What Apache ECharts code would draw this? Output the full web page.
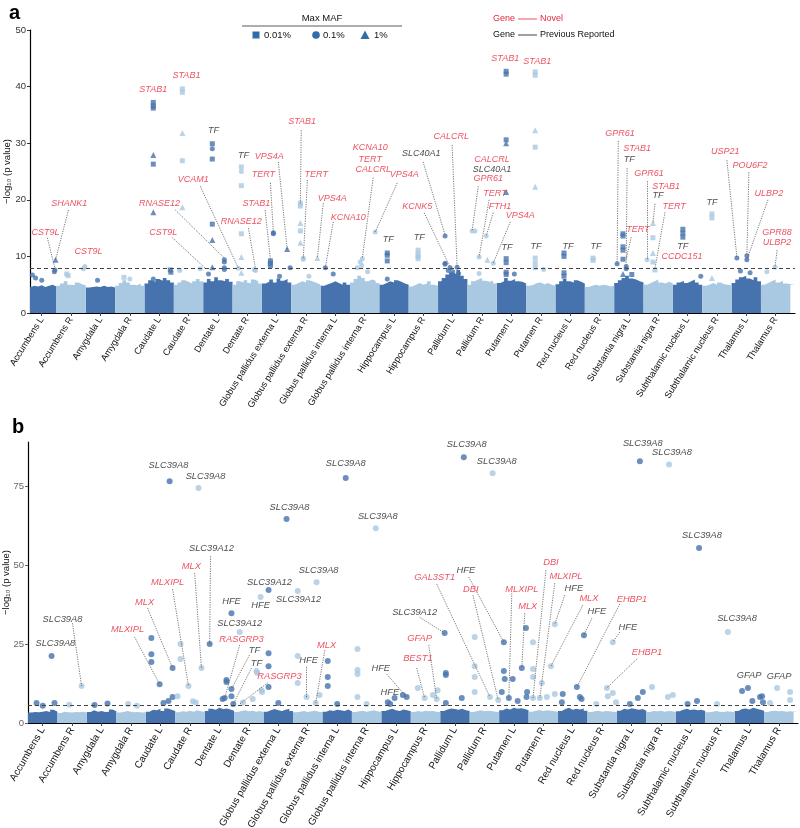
<!DOCTYPE html>
<html><head><meta charset="utf-8">
<script src="https://cdn.jsdelivr.net/npm/echarts@6/dist/echarts.min.js"></script>
<style>html,body{margin:0;padding:0;background:#fff}#c{width:800px;height:828px}</style>
</head><body><div id="c"></div>
<script>
const regions = ['Accumbens L','Accumbens R','Amygdala L','Amygdala R','Caudate L','Caudate R','Dentate L','Dentate R',
 'Globus pallidus externa L','Globus pallidus externa R','Globus pallidus interna L','Globus pallidus interna R',
 'Hippocampus L','Hippocampus R','Pallidum L','Pallidum R','Putamen L','Putamen R','Red nucleus L','Red nucleus R',
 'Substantia nigra L','Substantia nigra R','Subthalamic nucleus L','Subthalamic nucleus R','Thalamus L','Thalamus R'];

// dense background: upper envelope heights (-log10 p) across each region
const envA = [
[4.6,4.8,4.7,4.9,4.6,4.8,5.0,4.7],[4.8,5.2,5.6,5.0,4.9,5.4,5.1,4.9],[4.5,4.6,4.7,4.6,4.8,4.6,4.7,4.5],
[4.8,5.3,5.8,5.4,5.0,4.9,5.2,4.8],[5.2,5.8,5.5,6.0,5.7,6.2,5.8,5.4],[5.0,5.4,5.8,5.5,5.2,5.6,6.0,5.6],
[5.4,6.0,5.6,6.3,5.8,5.6,6.0,5.5],[5.0,5.6,5.4,5.8,5.3,5.9,5.6,5.2],[5.2,5.5,5.9,5.4,6.1,5.7,6.0,5.4],
[5.0,5.3,5.6,5.4,5.8,5.5,5.3,5.0],[4.8,5.1,5.3,5.6,5.3,5.0,5.4,5.0],[5.4,6.0,6.6,6.2,5.6,5.9,5.7,5.3],
[5.0,5.3,5.6,5.4,5.8,5.5,5.2,5.0],[4.7,5.0,5.3,5.0,5.2,5.6,5.0,4.8],[5.6,6.2,6.8,7.2,6.9,7.6,6.6,6.0],
[5.0,5.6,5.9,6.2,5.7,5.5,5.7,5.2],[5.3,5.6,6.2,5.7,6.0,5.6,5.5,5.2],[4.8,5.0,5.3,5.4,5.1,5.3,5.0,4.8],
[5.1,5.6,6.0,5.6,5.4,5.8,5.5,5.2],[4.6,4.8,5.0,4.8,5.0,4.9,4.7,4.8],[5.3,5.8,6.2,6.6,6.1,5.9,5.6,5.4],
[5.0,5.3,5.6,5.9,5.4,5.2,5.5,5.2],[5.0,5.4,5.7,5.3,5.6,5.9,5.4,5.0],[4.8,5.0,5.3,5.0,5.4,5.1,5.0,4.9],
[5.3,5.9,6.3,6.6,6.1,5.8,6.3,5.6],[5.0,5.3,5.6,5.9,5.4,5.7,5.2,5.0]];
const envB = [
[3.3,3.5,3.4,3.6,3.8,3.5,4.2,3.6],[3.2,3.6,3.4,3.3,3.5,3.4,3.6,3.3],[3.5,4.0,3.6,3.8,3.5,3.6,4.3,3.7],
[3.3,3.5,3.8,3.6,3.4,3.5,3.3,3.4],[3.6,4.2,4.0,4.5,3.8,4.6,4.2,3.8],[3.4,3.7,3.6,3.9,3.6,4.0,3.7,3.5],
[3.8,4.5,4.2,4.8,4.4,4.6,4.3,3.9],[3.5,3.8,4.0,3.7,3.9,3.6,3.8,3.5],[3.6,4.0,4.4,4.0,3.8,4.2,4.5,3.8],
[3.4,3.6,3.8,3.5,3.7,3.9,3.6,3.4],[3.6,4.0,3.8,4.2,4.0,3.8,4.3,3.7],[3.5,3.7,3.9,3.6,3.8,4.0,3.7,3.5],
[3.8,4.2,4.5,4.0,3.8,4.3,4.0,3.7],[3.5,3.8,3.6,3.9,3.7,3.8,3.6,3.4],[3.8,4.3,4.6,4.4,4.2,4.5,4.0,3.8],
[3.5,3.8,4.0,3.7,3.9,3.8,3.6,3.5],[4.0,4.6,4.3,4.8,4.5,4.7,4.4,4.0],[3.6,3.9,4.1,3.8,4.0,3.9,3.7,3.6],
[3.8,4.4,4.8,4.2,4.5,4.3,4.6,3.9],[3.5,3.7,3.9,3.6,3.8,3.7,3.6,3.5],[3.9,4.5,4.3,4.7,4.4,4.2,4.4,3.9],
[3.5,3.8,3.7,3.9,3.6,3.8,3.7,3.5],[3.7,4.2,4.5,4.1,4.3,4.0,4.2,3.8],[3.4,3.6,3.8,3.6,3.5,3.7,3.6,3.4],
[3.8,4.4,4.6,4.3,4.8,4.5,4.2,3.9],[3.5,3.8,3.9,3.7,3.8,3.6,3.7,3.5]];

// panel a points: [x, -log10 p, max MAF class: s=0.01%, c=0.1%, t=1%]
const pointsA = [
[0.18,6.7,'c'],[0.29,6.2,'c'],[0.5,5.8,'c'],[0.97,9.4,'t'],[0.95,7.6,'c'],[0.93,7.3,'c'],
[1.35,6.9,'s'],[1.4,6.6,'s'],[1.97,8.2,'c'],[1.92,7.8,'c'],
[2.4,5.8,'c'],[3.3,6.3,'s'],[3.5,6.0,'c'],
[4.30,37.2,'s'],[4.30,36.6,'s'],[4.30,36.2,'s'],[4.30,27.9,'t'],[4.30,26.3,'s'],[4.30,17.8,'t'],[4.88,7.6,'s'],[4.9,7.2,'s'],[4.30,6.0,'c'],
[5.29,39.6,'s'],[5.29,39.0,'s'],[5.29,31.8,'t'],[5.29,26.9,'s'],[5.29,18.7,'t'],[5.2,7.5,'c'],[5.9,7.8,'c'],
[6.31,29.9,'s'],[6.31,29.0,'c'],[6.31,27.2,'s'],[6.31,15.7,'s'],[6.31,12.9,'t'],[6.31,8.1,'t'],[6.18,6.9,'c'],[6.72,9.4,'c'],[6.72,9.0,'c'],[6.72,8.0,'c'],[6.72,7.7,'c'],
[7.30,25.8,'s'],[7.30,25.0,'c'],[7.30,22.5,'s'],[7.30,14.0,'s'],[7.30,9.9,'t'],[7.30,7.1,'t'],[7.20,7.9,'c'],[7.78,7.5,'c'],[7.74,7.7,'c'],
[8.29,9.2,'s'],[8.29,8.8,'s'],[8.29,8.4,'s'],[8.39,14.2,'c'],[8.39,14.0,'c'],[8.86,11.3,'t'],[8.96,8.0,'c'],[8.6,6.5,'c'],
[9.31,19.4,'s'],[9.31,18.9,'s'],[9.31,15.9,'t'],[9.31,14.5,'s'],[9.31,12.4,'t'],[9.41,9.7,'c'],[9.41,9.5,'c'],[9.89,9.7,'t'],[9.6,6.5,'c'],
[10.16,8.0,'c'],[10.43,6.9,'c'],
[11.35,9.0,'c'],[11.42,9.6,'c'],[11.40,8.4,'c'],[11.25,8.0,'c'],[11.6,7.3,'c'],[11.86,14.3,'c'],
[12.27,10.6,'s'],[12.27,10.2,'s'],[12.27,9.2,'s'],[12.27,6.0,'c'],
[13.32,11.1,'s'],[13.32,10.4,'s'],[13.32,10.0,'s'],[13.32,9.6,'s'],
[14.24,13.6,'c'],[14.24,8.8,'c'],[14.24,8.6,'c'],[14.41,8.0,'c'],[14.65,8.1,'c'],[14.5,7.3,'c'],[14.7,7.0,'c'],[14.35,7.5,'c'],
[15.16,14.5,'c'],[15.26,14.5,'c'],[15.64,13.6,'c'],[15.40,9.9,'c'],[15.68,9.4,'t'],[15.88,8.8,'c'],[15.4,7.0,'c'],
[16.32,42.7,'s'],[16.32,42.2,'s'],[16.32,30.6,'s'],[16.32,30.0,'t'],[16.32,21.4,'t'],[16.32,9.6,'s'],[16.32,8.9,'s'],[16.32,7.2,'s'],[16.32,6.8,'s'],[16.6,6.9,'c'],
[17.31,42.6,'s'],[17.31,42.0,'s'],[17.31,32.3,'t'],[17.31,29.3,'s'],[17.31,22.3,'t'],[17.31,9.7,'s'],[17.31,8.8,'s'],[17.31,8.0,'s'],[17.6,7.7,'c'],
[18.29,10.6,'s'],[18.29,10.0,'s'],[18.29,7.1,'s'],[18.29,6.5,'s'],
[19.28,9.7,'s'],[19.28,9.3,'s'],
[20.30,14.0,'s'],[20.30,13.6,'s'],[20.30,11.7,'s'],[20.30,11.1,'s'],[20.30,9.5,'s'],[20.10,8.7,'c'],[20.30,6.9,'t'],[20.41,7.8,'c'],[20.41,8.2,'c'],[20.6,6.8,'s'],
[21.12,9.4,'c'],[21.32,15.9,'t'],[21.32,13.3,'s'],[21.32,10.6,'t'],[21.32,9.0,'s'],[21.39,7.6,'s'],
[22.34,14.8,'s'],[22.34,14.1,'s'],[22.34,13.4,'s'],[22.95,6.5,'c'],
[23.33,17.5,'s'],[23.33,16.8,'s'],[23.33,6.2,'t'],
[24.18,9.7,'c'],[24.52,10.1,'c'],[24.52,9.4,'c'],[24.63,7.1,'c'],[24.3,7.4,'c'],
[25.20,7.3,'c'],[25.48,8.1,'c']];

// panel b points (all circles): [x, -log10 p]
const pointsB = [
[0.29,6.3],[0.80,21.2],[0.90,6.3],[0.5,5.5],[1.82,11.7],[1.4,5.8],[2.26,5.7],[2.7,6.2],[3.4,6.0],[3.7,5.5],
[4.19,26.9],[4.19,21.8],[4.19,19.3],[4.47,12.3],[4.81,76.6],[4.91,17.4],[4.91,8.2],[4.77,7.0],[4.6,6.3],
[5.08,8.5],[5.18,25.0],[5.18,20.3],[5.45,11.7],[5.79,74.4],[5.89,17.4],[5.6,6.9],[5.7,6.5],
[6.17,25.0],[6.61,7.6],[6.68,7.9],[6.74,13.6],[6.74,13.0],[6.91,34.8],[6.91,10.8],[6.91,8.5],[6.97,6.0],
[7.19,28.8],[7.63,7.6],[7.76,16.5],[7.78,15.9],[7.90,39.9],[7.93,10.4],[7.95,9.8],[7.3,6.5],
[8.17,42.1],[8.17,22.1],[8.17,18.0],[8.17,11.4],[8.78,64.6],[8.5,6.3],
[9.16,41.8],[9.16,21.2],[9.16,12.7],[9.80,44.6],[9.46,8.2],[9.77,6.3],[9.90,8.9],
[10.18,19.6],[10.18,14.6],[10.18,11.7],[10.79,77.6],[10.5,6.0],
[11.19,23.4],[11.19,16.8],[11.19,15.5],[11.19,8.2],[11.81,61.7],[11.5,6.0],
[12.22,6.6],[12.45,7.9],[12.73,8.9],[12.86,8.2],[12.3,6.0],
[13.24,11.1],[13.47,7.9],[13.75,8.9],[13.88,7.6],[13.91,10.4],
[14.15,28.5],[14.19,15.8],[14.19,15.2],[14.19,6.3],[14.73,7.9],[14.80,84.2],
[15.17,27.2],[15.17,18.0],[15.17,14.6],[15.17,9.8],[15.69,8.2],[15.78,79.1],[15.97,7.3],
[16.09,9.8],[16.16,25.6],[16.16,16.5],[16.19,13.9],[16.33,7.9],[16.46,13.9],[16.63,7.0],[16.77,17.4],[16.91,30.1],[16.95,9.8],[16.93,8.2],
[17.15,25.6],[17.15,17.1],[17.15,14.6],[17.15,7.9],[17.38,7.9],[17.45,12.7],[17.62,8.2],[17.76,18.0],[17.89,31.3],[17.89,9.2],
[18.13,6.6],[18.16,9.2],[18.64,11.4],[18.74,8.2],[18.80,7.6],[18.88,27.8],
[19.66,11.1],[19.69,8.5],[19.86,25.6],[19.86,9.5],[19.97,6.6],[19.3,6.0],
[20.44,6.0],[20.71,7.9],[20.78,82.9],[20.88,9.8],
[21.19,11.4],[21.73,8.2],[21.77,81.9],[21.90,8.9],
[22.72,7.0],[22.79,55.4],[22.4,6.0],
[23.77,28.8],[23.4,6.0],
[24.25,10.1],[24.45,11.1],[24.86,8.2],[24.93,8.5],[24.96,6.6],[24.6,7.0],
[25.44,11.1],[25.88,9.8],[25.88,7.3],[25.2,6.3]];

// gene annotations: [gene, novel?, labelX, labelY, (leaderFromX, leaderFromY, leaderToX, leaderToY)]
const genesA = [
['STAB1',1,4.30,39.4],['STAB1',1,5.43,41.9],['TF',0,6.35,32.2],['TF',0,7.37,27.9],
['VPS4A',1,8.25,27.6,8.56,26.7,8.86,11.3],['TERT',1,8.05,24.4,8.29,23.0,8.39,14.2],
['STAB1',1,9.37,33.9,9.34,32.3,9.31,19.4],['TERT',1,9.85,24.4,9.55,23.5,9.41,9.7],
['VPS4A',1,10.40,20.3,10.09,19.4,9.89,9.7],['KCNA10',1,10.94,16.8,10.43,16.1,10.16,8.0],
['KCNA10',1,11.69,29.2],['TERT',1,11.69,27.2],['CALCRL',1,11.79,25.4,11.79,23.9,11.42,9.7],
['VPS4A',1,12.85,24.4,12.61,23.0,11.86,14.3],
['SHANK1',1,1.44,19.4,1.41,18.2,0.97,9.4],['CST9L',1,0.63,14.3,0.69,13.3,0.95,7.9],['CST9L',1,2.09,10.8],
['RNASE12',1,4.51,19.4,5.05,18.2,6.72,9.7],['CST9L',1,4.64,14.3,4.95,13.3,6.07,7.9],
['VCAM1',1,5.66,23.5,5.90,22.4,7.20,7.9],['RNASE12',1,7.30,16.1,7.54,15.0,7.78,7.9],
['STAB1',1,7.81,19.3,8.11,18.2,8.29,9.4],['TF',0,12.30,12.9],
['STAB1',1,16.29,44.9],['STAB1',1,17.38,44.5],
['CALCRL',1,14.45,31.1,14.48,29.7,14.65,8.1],['SLC40A1',0,13.43,28.1,13.49,26.7,14.24,13.8],
['KCNK5',1,13.29,18.9,13.53,17.7,14.41,8.1],
['CALCRL',1,15.84,27.2],['SLC40A1',0,15.84,25.3],['GPR61',1,15.71,23.7,15.37,22.4,15.16,14.5],
['TERT',1,15.94,21.2,15.74,20.0,15.40,9.9],['FTH1',1,16.11,18.9,15.88,17.7,15.64,13.6],
['VPS4A',1,16.80,17.3,16.46,16.1,15.88,8.8],
['TF',0,13.36,13.3],['TF',0,16.35,11.5],['TF',0,17.34,11.7],['TF',0,18.43,11.8],['TF',0,19.38,11.7],
['GPR61',1,20.20,31.8,20.14,30.4,20.10,8.7],['STAB1',1,20.78,29.0],['TF',0,20.51,27.2,20.44,25.6,20.41,8.5],
['GPR61',1,21.19,24.7,21.12,23.3,21.12,9.4],['STAB1',1,21.77,22.4],['TF',0,21.49,20.8,21.39,19.3,21.32,15.9],
['TERT',1,20.81,14.7,20.58,13.4,20.41,9.5],['TERT',1,22.04,18.9,21.73,17.8,21.39,7.9],
['CCDC151',1,22.31,9.9],['TF',0,22.34,11.7],['TF',0,23.33,19.6],
['USP21',1,23.78,28.6,23.84,27.0,24.18,9.9],['POU6F2',1,24.63,26.1,24.59,24.9,24.52,10.1],
['ULBP2',1,25.27,21.2,25.24,20.0,24.52,9.4],['GPR88',1,25.55,14.3],['ULBP2',1,25.55,12.5,25.55,11.1,25.48,8.1]];
const genesB = [
['SLC39A8',0,4.77,81.6],['SLC39A8',0,6.03,78.2],['SLC39A8',0,10.79,82.3],['SLC39A8',0,8.88,68.4],['SLC39A8',0,11.88,65.5],
['SLC39A12',0,6.23,55.4,6.20,52.8,6.17,25.0],['MLX',1,5.55,49.7,5.66,47.5,5.89,17.4],
['MLXIPL',1,4.74,44.6,4.91,42.4,5.45,11.7],['MLX',1,3.96,38.3,4.06,36.4,4.91,17.4],
['MLXIPL',1,3.38,29.7,3.62,27.2,4.47,12.3],['SLC39A8',0,1.17,32.9,1.51,31.6,1.82,11.7],['SLC39A8',0,0.93,25.3],
['HFE',0,6.91,38.6],['SLC39A12',0,7.19,31.6],['HFE',0,7.90,37.3],['SLC39A12',0,8.20,44.6],['SLC39A12',0,9.19,39.2],['SLC39A8',0,9.87,48.4],
['RASGRP3',1,7.25,26.6,7.19,24.7,6.68,7.9],['TF',0,7.69,23.1,7.52,21.5,6.91,10.8],['TF',0,7.76,19.0,7.59,17.4,6.97,6.0],
['RASGRP3',1,8.54,14.6,8.14,12.7,7.19,6.0],['HFE',0,9.53,19.9,9.46,17.7,9.46,8.2],['MLX',1,10.14,24.7,10.08,23.1,9.77,6.3],
['HFE',0,11.98,17.4,12.18,15.5,12.86,8.2],['HFE',0,12.29,9.8],['BEST1',1,13.24,20.6,13.20,17.4,13.47,7.9],
['GFAP',1,13.30,26.9,13.61,24.7,13.88,7.6],['SLC39A12',0,13.13,35.1,13.30,33.5,14.15,28.5],
['SLC39A8',0,14.90,88.3],['SLC39A8',0,15.92,82.9],['SLC39A8',0,20.88,88.6],['SLC39A8',0,21.87,85.8],['SLC39A8',0,22.89,59.5],['SLC39A8',0,24.08,33.2],
['GAL3ST1',1,13.81,46.2,13.88,44.0,15.69,8.2],['DBI',1,15.04,42.4,15.11,40.5,15.97,7.3],
['HFE',0,14.87,48.4,14.97,46.2,16.16,25.6],['MLXIPL',1,16.77,42.4,16.43,41.1,16.33,7.9],
['MLX',1,16.97,37.0,16.87,34.8,16.77,17.4],['DBI',1,17.76,50.9,17.59,48.4,17.15,7.9],
['MLXIPL',1,18.27,46.5,17.89,44.3,17.38,7.9],['HFE',0,18.54,42.7,18.23,40.5,17.89,31.3],
['MLX',1,19.05,39.6,18.84,37.3,17.76,18.0],['HFE',0,19.32,35.4,19.15,33.2,18.88,27.8],
['EHBP1',1,20.51,39.2,20.10,37.7,18.64,11.4],['HFE',0,20.37,30.4,20.10,28.8,19.86,25.6],
['EHBP1',1,21.02,22.2,20.68,20.3,19.66,11.1],['GFAP',0,24.49,15.2],['GFAP',0,25.51,14.9]];

const thresholdA = 7.9, thresholdB = 5.7;
const yTicksA = [0,10,20,30,40,50];
const yTicksB = [0,25,50,75];
const mafLegend = ['0.01%','0.1%','1%'];

const DARK = '#4673ad', LIGHT = '#a9c8e1', RED = '#e8273b', BLK = '#1a1a1a', LEG = '#2f6ea9';
const FONT = 'Liberation Sans, Arial, Helvetica, sans-serif';
const shapeMap = {s:'rect', c:'circle', t:'triangle'};
const centers = regions.map((_, k) => k + 0.5);

function areaData(env, parity, xmax) {
  const d = [];
  env.forEach((vals, k) => {
    if (k % 2 !== parity) return;
    const n = vals.length;
    vals.forEach((v, i) => d.push([k + i / n, v]));
    d.push([k === env.length - 1 ? xmax : k + 1, vals[n - 1]]);
    d.push([k + 1.001, null]);
  });
  return d;
}
function areaSeries(env, parity, g, xmax) {
  return {type:'line', xAxisIndex:g, yAxisIndex:g, data:areaData(env, parity, xmax), step:'end',
    symbol:'none', showSymbol:false, lineStyle:{width:0}, connectNulls:false,
    areaStyle:{color: parity ? LIGHT : DARK, opacity:1}, silent:true, z:1};
}
function labelSeries(genes, g, fs) {
  return {type:'scatter', xAxisIndex:g, yAxisIndex:g, symbolSize:1, silent:true, z:6,
    itemStyle:{color:'rgba(0,0,0,0)'},
    label:{show:true, position:'inside', fontStyle:'italic', fontSize:fs, fontFamily:FONT},
    data: genes.map(r => ({value:[r[2], r[3]], label:{formatter:r[0], color: r[1] ? RED : BLK}}))};
}
function leaderSeries(genes, g) {
  return {type:'lines', coordinateSystem:'cartesian2d', xAxisIndex:g, yAxisIndex:g, silent:true, z:5,
    lineStyle:{color:'#555', width:0.8, type:[1.2,1.2], opacity:1},
    data: genes.filter(r => r.length > 4).map(r => ({coords:[[r[4], r[5]], [r[6], r[7]]]}))};
}
function xAxis(g, min, max, rot, fs) {
  return {type:'value', gridIndex:g, min, max,
    axisLine:{show:true, onZero:false, lineStyle:{color:'#000', width:1.2}},
    axisTick:{show:true, customValues:centers, length:3, lineStyle:{color:'#444'}},
    axisLabel:{customValues:centers, rotate:rot, margin:5, fontSize:fs, fontFamily:FONT, color:'#111',
      formatter: v => regions[Math.floor(v)]},
    splitLine:{show:false}};
}

const chart = echarts.init(document.getElementById('c'), null, {renderer:'canvas'});
chart.setOption({
  animation:false,
  grid:[{left:30, top:30, width:765, height:283, containLabel:false, outerBoundsMode:'none'},
        {left:28, top:442, width:770, height:281, containLabel:false, outerBoundsMode:'none'}],
  xAxis:[xAxis(0, 0.1, 26.16, 58, 9.2), xAxis(1, 0, 26.15, 60, 10)],
  yAxis:[
    {type:'value', gridIndex:0, min:0, max:50, interval:10,
     name:'−log₁₀ (p value)', nameLocation:'middle', nameGap:18, nameMoveOverlap:false,
     nameTextStyle:{fontSize:9.5, fontFamily:FONT, color:'#111'},
     axisLine:{show:true, lineStyle:{color:'#000', width:1.2}}, axisTick:{show:true, length:3, lineStyle:{color:'#333'}},
     axisLabel:{fontSize:9.5, fontFamily:FONT, color:'#333', margin:4}, splitLine:{show:false}},
    {type:'value', gridIndex:1, min:0, max:89,
     name:'−log₁₀ (p value)', nameLocation:'middle', nameGap:17, nameMoveOverlap:false,
     nameTextStyle:{fontSize:9.5, fontFamily:FONT, color:'#111'},
     axisLine:{show:true, lineStyle:{color:'#000', width:1.2}},
     axisTick:{show:true, length:3, customValues:yTicksB, lineStyle:{color:'#666'}},
     axisLabel:{customValues:yTicksB, fontSize:9.5, fontFamily:FONT, color:'#666', margin:4}, splitLine:{show:false}}
  ],
  series:[
    areaSeries(envA, 0, 0, 26.16), areaSeries(envA, 1, 0, 26.16),
    areaSeries(envB, 0, 1, 26.15), areaSeries(envB, 1, 1, 26.15),
    {type:'scatter', xAxisIndex:0, yAxisIndex:0, z:3, silent:true,
     data: pointsA.map(p => ({value:[p[0], p[1]], symbol:shapeMap[p[2]], symbolSize: p[2]==='t' ? 6 : 5,
       itemStyle:{color: Math.floor(p[0]) % 2 ? LIGHT : DARK}})),
     markLine:{silent:true, symbol:['none','none'], label:{show:false}, lineStyle:{type:[4,3], color:'#444', width:1},
       data:[{yAxis:thresholdA}]}},
    {type:'scatter', xAxisIndex:1, yAxisIndex:1, z:3, silent:true, symbol:'circle', symbolSize:6,
     data: pointsB.map(p => ({value:p, itemStyle:{color: Math.floor(p[0]) % 2 ? LIGHT : DARK}})),
     markLine:{silent:true, symbol:['none','none'], label:{show:false}, lineStyle:{type:[4,3], color:'#444', width:1},
       data:[{yAxis:thresholdB}]}},
    leaderSeries(genesA, 0), leaderSeries(genesB, 1),
    labelSeries(genesA, 0, 9), labelSeries(genesB, 1, 9.3)
  ],
  graphic:[
    {type:'text', left:9, top:3, style:{text:'a', font:'bold 20px '+FONT, fill:'#000'}},
    {type:'text', left:12, top:417, style:{text:'b', font:'bold 20px '+FONT, fill:'#000'}},
    {type:'text', x:322, y:18, style:{text:'Max MAF', font:'9.5px '+FONT, fill:'#111', align:'center', verticalAlign:'middle'}},
    {type:'line', shape:{x1:242, y1:26, x2:402, y2:26}, style:{stroke:'#333', lineWidth:0.8}},
    {type:'rect', shape:{x:252.5, y:31.5, width:7, height:7}, style:{fill:LEG}},
    {type:'text', x:264, y:35, style:{text:mafLegend[0], font:'9.5px '+FONT, fill:'#111', verticalAlign:'middle'}},
    {type:'circle', shape:{cx:316, cy:35, r:3.8}, style:{fill:LEG}},
    {type:'text', x:323, y:35, style:{text:mafLegend[1], font:'9.5px '+FONT, fill:'#111', verticalAlign:'middle'}},
    {type:'polygon', shape:{points:[[365,30.5],[369.5,39],[360.5,39]]}, style:{fill:LEG}},
    {type:'text', x:374, y:35, style:{text:mafLegend[2], font:'9.5px '+FONT, fill:'#111', verticalAlign:'middle'}},
    {type:'text', x:493, y:19, style:{text:'Gene', font:'9px '+FONT, fill:RED, verticalAlign:'middle'}},
    {type:'line', shape:{x1:518, y1:19, x2:537, y2:19}, style:{stroke:RED, lineWidth:0.8}},
    {type:'text', x:540, y:19, style:{text:'Novel', font:'9px '+FONT, fill:RED, verticalAlign:'middle'}},
    {type:'text', x:493, y:35, style:{text:'Gene', font:'9px '+FONT, fill:'#111', verticalAlign:'middle'}},
    {type:'line', shape:{x1:518, y1:35, x2:537, y2:35}, style:{stroke:'#111', lineWidth:0.8}},
    {type:'text', x:540, y:35, style:{text:'Previous Reported', font:'9px '+FONT, fill:'#111', verticalAlign:'middle'}}
  ]
});
</script></body></html>
